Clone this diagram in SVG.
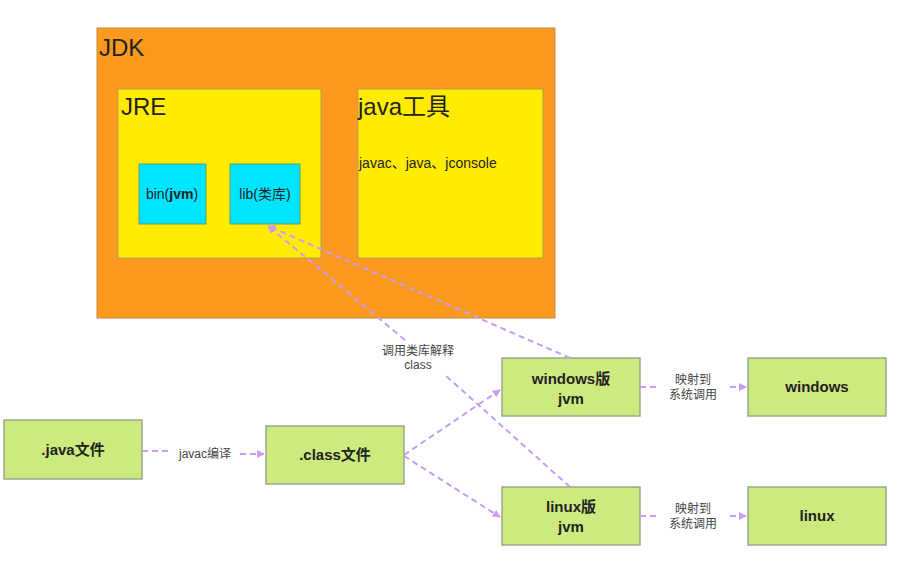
<svg xmlns="http://www.w3.org/2000/svg" width="903" height="572" viewBox="0 0 903 572">
<style>
text{font-family:"Liberation Sans","Noto Sans CJK SC",sans-serif;fill:#222}
.g{fill:#cdea7f;stroke:#9aa88a;stroke-width:1.5}
.gt{font-size:15px;font-weight:bold;text-anchor:middle}
.c{fill:none;stroke:#c99cf5;stroke-width:2;stroke-dasharray:6,4;marker-end:url(#a)}
.l{font-size:12px;text-anchor:middle;fill:#444}
</style>
<defs><marker id="a" viewBox="0 0 10 10" refX="9" refY="5" markerWidth="4" markerHeight="4" orient="auto"><path d="M0,0L10,5L0,10z" fill="#c99cf5"/></marker></defs>
<g id="jdk"><rect x="97" y="28" width="458" height="290" fill="#fb9a1f" stroke="#c98a3a"/><text x="99" y="56" font-size="24">JDK</text></g>
<g id="jre"><rect x="118" y="89" width="203" height="169" fill="#ffec00" stroke="#b8a050"/><text x="121" y="115" font-size="24">JRE</text></g>
<g id="tools"><rect x="358" y="89" width="185" height="169" fill="#ffec00" stroke="#b8a050"/><text x="358" y="115" font-size="24">java工具</text><text x="359" y="168" font-size="14">javac、java、jconsole</text></g>
<g id="bin"><rect x="139" y="164" width="67" height="60" fill="#00e5ff" stroke="#6a9a70"/><text x="172" y="199" font-size="14" text-anchor="middle">bin(<tspan font-weight="bold">jvm</tspan>)</text></g>
<g id="lib"><rect x="230" y="164" width="70" height="60" fill="#00e5ff" stroke="#6a9a70"/><text x="265" y="199" font-size="14" text-anchor="middle">lib(类库)</text></g>
<g id="javafile"><rect class="g" x="4" y="420" width="138" height="59"/><text class="gt" x="73" y="455">.java文件</text></g>
<g id="classfile"><rect class="g" x="266" y="426" width="138" height="58"/><text class="gt" x="335" y="460">.class文件</text></g>
<g id="winjvm"><rect class="g" x="502" y="358" width="138" height="58"/><text class="gt" x="571" y="384">windows版</text><text class="gt" x="571" y="404">jvm</text></g>
<g id="linjvm"><rect class="g" x="502" y="487" width="138" height="58"/><text class="gt" x="571" y="512">linux版</text><text class="gt" x="571" y="532">jvm</text></g>
<g id="win"><rect class="g" x="748" y="358" width="138" height="58"/><text class="gt" x="817" y="392">windows</text></g>
<g id="lin"><rect class="g" x="748" y="487" width="138" height="58"/><text class="gt" x="817" y="521">linux</text></g>
<g id="connectors">
<path class="c" d="M142,451H170M240,454H264"/>
<path class="c" d="M404,455L500,390"/>
<path class="c" d="M404,456L500,517"/>
<path class="c" d="M570,358L268,226"/>
<path class="c" d="M570,487L445,375M405,340L268,226"/>
<path class="c" d="M640,387H660M730,387H746"/>
<path class="c" d="M640,516H660M730,516H746"/>
<text class="l" x="205" y="458">javac编译</text>
<text class="l" x="418" y="355">调用类库解释</text><text class="l" x="418" y="369">class</text>
<text class="l" x="693" y="384">映射到</text><text class="l" x="693" y="399">系统调用</text>
<text class="l" x="693" y="513">映射到</text><text class="l" x="693" y="528">系统调用</text>
</g>
</svg>
